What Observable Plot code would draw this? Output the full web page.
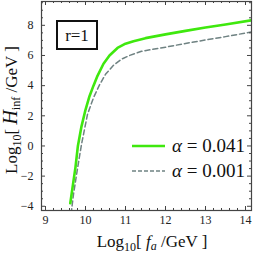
<!DOCTYPE html>
<html><head><meta charset="utf-8">
<script src="https://cdn.jsdelivr.net/npm/d3@7"></script>
<script src="https://cdn.jsdelivr.net/npm/@observablehq/plot@0.6"></script>
<style>body{margin:0;background:#fff}svg{display:block}</style>
</head><body><div id="chart"></div>
<script>
const seriesNames = ["α = 0.041", "α = 0.001"];
const greenX = [9.62, 9.69, 9.75, 9.81, 9.9, 10.0, 10.1, 10.2, 10.3, 10.45, 10.6, 10.8, 11.0, 11.2, 11.5, 12.0, 12.5, 13.0, 13.5, 14.15];
const greenY = [-3.8, -2.5, -1.4, 0.0, 1.3, 2.4, 3.3, 4.0, 4.65, 5.45, 6.0, 6.5, 6.78, 6.95, 7.15, 7.4, 7.63, 7.85, 8.05, 8.33];
const grayX = [9.64, 9.7, 9.8, 9.9, 10.05, 10.2, 10.35, 10.5, 10.7, 10.9, 11.1, 11.4, 12.0, 12.5, 13.0, 13.5, 14.15];
const grayY = [-4.5, -3.2, -1.5, 0.1, 2.1, 3.2, 4.05, 4.75, 5.35, 5.75, 6.0, 6.28, 6.55, 6.8, 7.03, 7.25, 7.56];
const xTicks = [9, 10, 11, 12, 13, 14];
const yTicks = [-4, -2, 0, 2, 4, 6, 8];

const green = greenX.map((x, i) => ({x, y: greenY[i]}));
const gray = grayX.map((x, i) => ({x, y: grayY[i]}));
const xMinor = d3.range(8.8, 14.2, 0.2).map(v => +v.toFixed(1)).filter(v => v > 8.9 && v < 14.15 && !xTicks.includes(v));
const yMinor = d3.range(-4, 9.6, 0.5).filter(v => !yTicks.includes(v));

const W = 253, H = 256, mL = 41, mR = 2, mT = 1, mB = 46;
const fW = W - mL - mR, fH = H - mT - mB;
const axisColor = "#444";
const serif = "Liberation Serif, Times New Roman, DejaVu Serif, serif";

const plot = Plot.plot({
  width: W, height: H,
  marginLeft: mL, marginRight: mR, marginTop: mT, marginBottom: mB,
  x: {domain: [8.9, 14.15]},
  y: {domain: [-4.28, 9.58]},
  style: {fontFamily: serif, color: axisColor, background: "#fff"},
  marks: [
    Plot.axisX(xTicks, {tickSize: 0, tickPadding: 5, fontSize: 12, label: null, fill: "#222", fontFamily: serif}),
    Plot.axisY(yTicks, {tickSize: 0, tickPadding: 8, fontSize: 12, label: null, fill: "#222", fontFamily: serif}),
    Plot.line(gray, {x: "x", y: "y", stroke: "#6f8282", strokeWidth: 1.5, strokeDasharray: "5,3", clip: true}),
    Plot.line(green, {x: "x", y: "y", stroke: "#3fe80e", strokeWidth: 2.6, clip: true}),
    Plot.tickX(xTicks, {x: d => d, insetTop: fH - 4, stroke: axisColor}),
    Plot.tickX(xTicks, {x: d => d, insetBottom: fH - 4, stroke: axisColor}),
    Plot.tickX(xMinor, {x: d => d, insetTop: fH - 2, stroke: axisColor}),
    Plot.tickX(xMinor, {x: d => d, insetBottom: fH - 2, stroke: axisColor}),
    Plot.tickY(yTicks, {y: d => d, insetRight: fW - 4, stroke: axisColor}),
    Plot.tickY(yTicks, {y: d => d, insetLeft: fW - 4, stroke: axisColor}),
    Plot.tickY(yMinor, {y: d => d, insetRight: fW - 2, stroke: axisColor}),
    Plot.tickY(yMinor, {y: d => d, insetLeft: fW - 2, stroke: axisColor}),
    Plot.frame({stroke: axisColor, strokeWidth: 1.2})
  ]
});

const svg = d3.select(plot);
// r=1 box
svg.append("rect").attr("x", 57).attr("y", 21).attr("width", 40).attr("height", 28)
  .attr("fill", "#fff").attr("stroke", "#111").attr("stroke-width", 2);
svg.append("text").attr("x", 77).attr("y", 41).attr("text-anchor", "middle")
  .attr("font-family", serif).attr("font-size", 17).attr("fill", "#111").text("r=1");

// legend
const leg = [{c: "#3fe80e", w: 2.6, dash: null, y: 146}, {c: "#6f8282", w: 1.5, dash: "4,2", y: 171}];
leg.forEach((l, i) => {
  const ln = svg.append("line").attr("x1", 132).attr("x2", 165).attr("y1", l.y).attr("y2", l.y)
    .attr("stroke", l.c).attr("stroke-width", l.w);
  if (l.dash) ln.attr("stroke-dasharray", l.dash);
  const t = svg.append("text").attr("x", 172).attr("y", l.y + 6).attr("text-anchor", "start")
    .attr("font-family", serif).attr("font-size", 19).attr("fill", "#111");
  const [a, rest] = seriesNames[i].split(" = ");
  t.append("tspan").attr("font-style", "italic").text(a);
  t.append("tspan").text(" = " + rest);
});

// x label
const xl = svg.append("text").attr("x", 152).attr("y", 247).attr("text-anchor", "middle")
  .attr("font-family", serif).attr("font-size", 17).attr("fill", "#111");
xl.append("tspan").text("Log");
xl.append("tspan").attr("font-size", 12).attr("dy", 4).text("10");
xl.append("tspan").attr("dy", -4).text("[ ");
xl.append("tspan").attr("font-style", "italic").text("f");
xl.append("tspan").attr("font-style", "italic").attr("font-size", 12).attr("dy", 3).text("a");
xl.append("tspan").attr("dy", -3).text(" /GeV ]");

// y label
const yl = svg.append("text").attr("transform", "translate(17,110) rotate(-90)").attr("text-anchor", "middle")
  .attr("font-family", serif).attr("font-size", 17).attr("fill", "#111");
yl.append("tspan").text("Log");
yl.append("tspan").attr("font-size", 12).attr("dy", 4).text("10");
yl.append("tspan").attr("dy", -4).text("[ ");
yl.append("tspan").attr("font-style", "italic").attr("font-size", 20).text("H");
yl.append("tspan").attr("font-size", 12).attr("dy", 3).text("inf");
yl.append("tspan").attr("dy", -3).text(" /GeV ]");

document.getElementById("chart").appendChild(plot);
</script>
</body></html>
